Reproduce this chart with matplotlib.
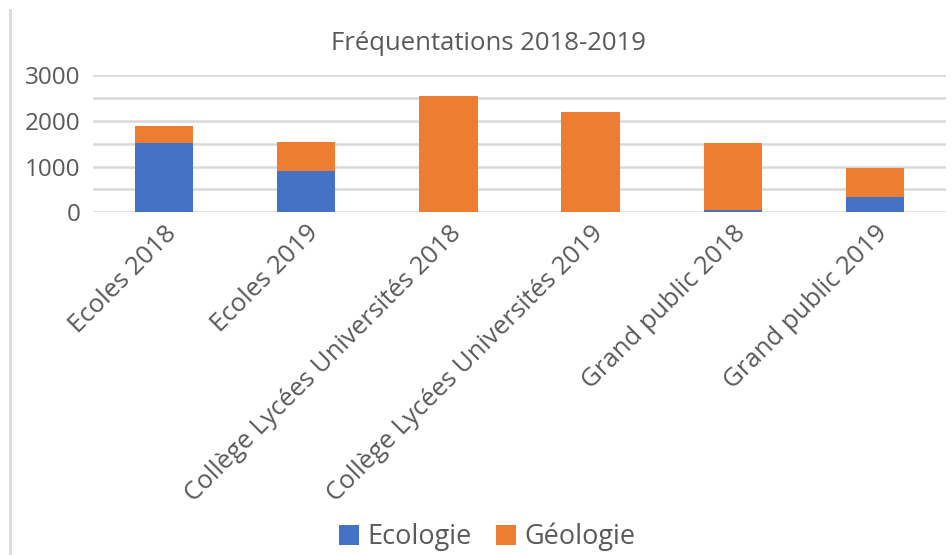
import matplotlib
matplotlib.use("Agg")
import matplotlib.pyplot as plt
from matplotlib.lines import Line2D
import numpy as np

categories = ["Ecoles 2018", "Ecoles 2019", "Collège Lycées Universités 2018",
              "Collège Lycées Universités 2019", "Grand public 2018", "Grand public 2019"]
ecologie = [1510, 900, 10, 10, 50, 330]
geologie = [373, 646, 2530, 2186, 1460, 647]
yticks = [0, 1000, 2000, 3000]

plt.rcParams['font.family'] = ['Open Sans', 'DejaVu Sans']
grey = '#595959'

fig = plt.figure(figsize=(9.52, 5.55), dpi=100)
ax = fig.add_axes([93/952, 1-212.3/555, (946-93)/952, (212.3-75.3)/555])

x = np.arange(len(categories))
w = 0.41
ax.bar(x, ecologie, w, color='#4472C4', label='Ecologie', zorder=3)
ax.bar(x, geologie, w, bottom=ecologie, color='#ED7D31', label='Géologie', zorder=3)

ax.set_xlim(-0.5, len(categories)-0.5)
ax.set_ylim(0, 3000)
ax.set_yticks(yticks)
ax.set_yticks([500, 1500, 2500], minor=True)
ax.grid(axis='y', which='both', color='#D9D9D9', linewidth=1.8, zorder=0)
for s in ax.spines.values():
    s.set_visible(False)
ax.tick_params(axis='y', which='both', length=0, labelsize=17.5, labelcolor=grey, pad=9)
ax.tick_params(axis='x', length=0, labelsize=18.5, labelcolor=grey, pad=6)
ax.set_xticks(x)
ax.set_xticklabels(categories, rotation=45, ha='right', rotation_mode='anchor')

fig.text(488/952, 1-44/555, "Fréquentations 2018-2019", ha='center', va='center',
         fontsize=18.5, color=grey)

leg = fig.legend(loc='center', bbox_to_anchor=(487/952, 1-537/555), ncol=2, frameon=False,
                 fontsize=19.5, handlelength=0.75, handleheight=0.75, handletextpad=0.3,
                 columnspacing=0.9, borderpad=0)
for t in leg.get_texts():
    t.set_color(grey)

fig.add_artist(Line2D([10/952, 10/952], [0, 1-10/555], transform=fig.transFigure,
                      color='#D9D9D9', linewidth=2))

fig.savefig("out.png", dpi=100)
